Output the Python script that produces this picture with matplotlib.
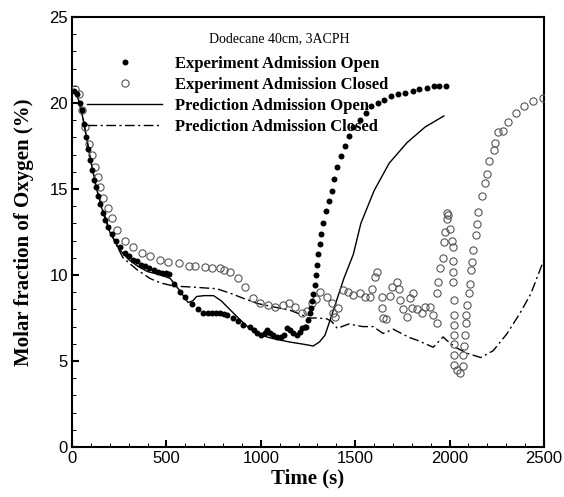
import matplotlib
matplotlib.use('Agg')
import matplotlib.pyplot as plt
from matplotlib.ticker import MultipleLocator

# Experiment, admission open (filled dots)
open_exp_t = [10, 27, 42, 53, 64, 74, 85, 95, 106, 117, 128, 138, 150, 162, 175,
              190, 212, 233, 254, 278, 302, 323, 345, 366, 387, 410, 435, 456,
              477, 497, 514, 541, 572, 599, 636, 668, 694, 720, 742, 764, 784,
              803, 822, 853, 880, 906, 943, 965, 980, 1000, 1020, 1034, 1050,
              1065, 1087, 1105, 1125, 1140, 1155, 1170, 1190, 1205, 1219, 1232,
              1240, 1250, 1258, 1265, 1272, 1278, 1285, 1292, 1298, 1305, 1312,
              1320, 1330, 1345, 1360, 1375, 1390, 1405, 1425, 1445, 1465, 1490,
              1525, 1555, 1585, 1620, 1655, 1690, 1725, 1765, 1805, 1840, 1880,
              1915, 1945, 1980]
open_exp_y = [20.7, 20.5, 20.0, 19.6, 18.8, 18.0, 17.3, 16.7, 16.1, 15.5, 15.1,
              14.6, 14.1, 13.6, 13.2, 12.8, 12.4, 12.0, 11.6, 11.3, 11.1, 10.9,
              10.8, 10.6, 10.5, 10.4, 10.3, 10.2, 10.1, 10.1, 10.05, 9.5, 9.0,
              8.7, 8.3, 8.0, 7.8, 7.8, 7.8, 7.8, 7.8, 7.75, 7.7, 7.5, 7.3, 7.1,
              7.0, 6.8, 6.6, 6.5, 6.6, 6.8, 6.6, 6.5, 6.4, 6.4, 6.5, 6.9, 6.8,
              6.6, 6.5, 6.7, 6.9, 7.0, 7.0, 7.4, 7.8, 8.1, 8.5, 8.9, 9.4, 10.0,
              10.6, 11.2, 11.8, 12.4, 13.0, 13.7, 14.3, 14.9, 15.6, 16.3, 16.9,
              17.5, 18.1, 18.6, 19.0, 19.4, 19.8, 20.0, 20.2, 20.4, 20.5, 20.6,
              20.7, 20.8, 20.9, 21.0, 21.0, 21.0]

# Experiment, admission closed (hollow circles)
closed_exp_t = [15, 35, 55, 70, 90, 106, 122, 138, 148, 164, 191, 212, 239, 281,
                323, 371, 413, 466, 509, 567, 620, 652, 705, 742, 784, 806, 837,
                880, 917, 959, 996, 1039, 1076, 1118, 1150, 1182, 1219, 1246,
                1272, 1290, 1314, 1352, 1378, 1383, 1394, 1410, 1436, 1463, 1489,
                1526, 1553, 1579, 1590, 1606, 1617, 1643, 1648, 1664, 1643, 1685,
                1696, 1722, 1733, 1738, 1754, 1775, 1791, 1807, 1802, 1828, 1855,
                1871, 1897, 1913, 1934, 1934, 1940, 1950, 1966, 1972, 1977, 1988,
                1988, 1993, 2003, 2014, 2019, 2019, 2019, 2019, 2025, 2025, 2025,
                2025, 2025, 2025, 2025, 2040, 2056, 2072, 2072, 2078, 2083, 2088,
                2088, 2094, 2104, 2109, 2115, 2120, 2125, 2141, 2147, 2152, 2173,
                2189, 2200, 2210, 2237, 2242, 2258, 2284, 2311, 2353, 2396, 2443,
                2496]
closed_exp_y = [20.8, 20.5, 19.6, 18.6, 17.6, 17.0, 16.3, 15.7, 15.1, 14.5, 13.9,
                13.3, 12.6, 12.0, 11.6, 11.3, 11.1, 10.85, 10.75, 10.7, 10.5, 10.5,
                10.45, 10.4, 10.4, 10.3, 10.2, 9.8, 9.3, 8.65, 8.35, 8.25, 8.15,
                8.25, 8.35, 8.15, 7.8, 7.9, 8.35, 8.6, 9.0, 8.7, 8.4, 7.8, 7.55,
                8.1, 9.1, 9.0, 8.85, 8.95, 8.7, 8.7, 9.2, 9.9, 10.2, 8.1, 7.5,
                7.45, 8.7, 8.8, 9.3, 9.6, 9.2, 8.55, 8.0, 7.55, 8.65, 8.95, 8.1,
                8.0, 7.8, 8.15, 8.15, 7.7, 7.2, 8.95, 9.6, 10.4, 11.0, 11.9, 12.5,
                13.25, 13.6, 13.5, 12.7, 12.0, 11.6, 10.8, 10.2, 9.6, 8.55, 7.7,
                7.1, 6.5, 6.0, 5.35, 4.75, 4.5, 4.3, 4.7, 5.35, 5.9, 6.5, 7.2,
                7.7, 8.25, 8.95, 9.5, 10.3, 10.75, 11.45, 12.3, 12.95, 13.65, 14.6,
                15.35, 15.9, 16.6, 17.25, 17.7, 18.3, 18.4, 18.9, 19.4, 19.8, 20.1,
                20.3]

# Prediction, admission open (solid line)
open_pred_t = [0, 20, 40, 60, 80, 100, 130, 160, 200, 250, 300, 350, 400, 470,
               520, 570, 615, 640, 660, 700, 750, 790, 840, 890, 940, 1000, 1065,
               1155, 1240, 1277, 1310, 1340, 1380, 1440, 1490, 1530, 1600, 1680,
               1775, 1870, 1970]
open_pred_y = [20.8, 20.6, 20.0, 19.0, 17.8, 16.6, 15.0, 13.8, 12.5, 11.5, 10.9,
               10.5, 10.2, 10.0, 9.8, 9.1, 8.4, 8.5, 8.75, 8.8, 8.8, 8.5, 7.95,
               7.4, 6.9, 6.5, 6.3, 6.1, 5.95, 5.87, 6.1, 6.5, 7.8, 9.8, 11.2, 13.0,
               14.9, 16.5, 17.7, 18.6, 19.25]

# Prediction, admission closed (dash-dot line)
closed_pred_t = [0, 20, 40, 60, 80, 100, 130, 160, 190, 228, 270, 345, 413, 466,
                 540, 640, 700, 768, 848, 906, 980, 1065, 1155, 1224, 1250, 1300,
                 1350, 1375, 1405, 1430, 1465, 1540, 1595, 1648, 1701, 1745, 1791,
                 1830, 1913, 1966, 1985, 2030, 2093, 2165, 2231, 2305, 2374, 2430,
                 2500]
closed_pred_y = [20.8, 20.6, 20.0, 19.0, 17.8, 16.6, 15.0, 13.9, 12.9, 11.9, 11.0,
                 10.3, 9.8, 9.55, 9.35, 9.3, 9.25, 9.2, 8.9, 8.65, 8.35, 8.15, 7.95,
                 7.65, 7.5, 7.5, 7.45, 7.3, 6.9, 7.0, 7.15, 7.0, 7.0, 6.6, 6.85,
                 6.6, 6.35, 6.2, 5.8, 6.4, 6.2, 5.8, 5.45, 5.2, 5.6, 6.6, 7.8, 8.9,
                 10.9]

title_text = 'Dodecane 40cm, 3ACPH'
labels = ['Experiment Admission Open', 'Experiment Admission Closed',
          'Prediction Admission Open', 'Prediction Admission Closed']

serif = ['Liberation Serif', 'DejaVu Serif']
sans = ['Liberation Sans', 'DejaVu Sans']

fig = plt.figure(figsize=(5.64, 4.97), dpi=100)
ax = fig.add_axes([0.1277, 0.1006, 0.8368, 0.8652])

ax.plot(open_exp_t, open_exp_y, 'o', color='black', ms=4.3, mew=0,
        label=labels[0], zorder=4)
ax.plot(closed_exp_t, closed_exp_y, 'o', mfc='none', mec='#555555', ms=5.2,
        mew=0.8, label=labels[1], zorder=3)
ax.plot(open_pred_t, open_pred_y, '-', color='black', lw=1.0,
        label=labels[2], zorder=2)
ax.plot(closed_pred_t, closed_pred_y, color='black', lw=1.0,
        dashes=(7, 2.5, 1.5, 2.5), label=labels[3], zorder=2)

ax.set_xlim(0, 2500)
ax.set_ylim(0, 25)
ax.xaxis.set_major_locator(MultipleLocator(500))
ax.xaxis.set_minor_locator(MultipleLocator(100))
ax.yaxis.set_major_locator(MultipleLocator(5))
ax.yaxis.set_minor_locator(MultipleLocator(1))
ax.tick_params(which='both', direction='in', top=False, right=False)
ax.tick_params(which='major', length=5, width=1.5, labelsize=12, pad=3)
ax.tick_params(which='minor', length=3, width=0.7)
for lab in ax.get_xticklabels() + ax.get_yticklabels():
    lab.set_family(sans)
for sp in ax.spines.values():
    sp.set_linewidth(1.5)

ax.set_xlabel('Time (s)', family=serif, weight='bold', fontsize=15, labelpad=2)
ax.set_ylabel('Molar fraction of Oxygen (%)', family=serif, weight='bold',
              fontsize=15, labelpad=11)

ax.text(0.44, 0.95, title_text, transform=ax.transAxes, family=serif,
        fontsize=10, ha='center', va='center')

leg = ax.legend(loc='upper left', bbox_to_anchor=(0.032, 0.91), frameon=False,
                prop={'family': serif, 'weight': 'bold', 'size': 12},
                handlelength=4.5, handletextpad=0.78, labelspacing=0.3,
                borderpad=0, borderaxespad=0)

fig.savefig('out.png', dpi=100)
